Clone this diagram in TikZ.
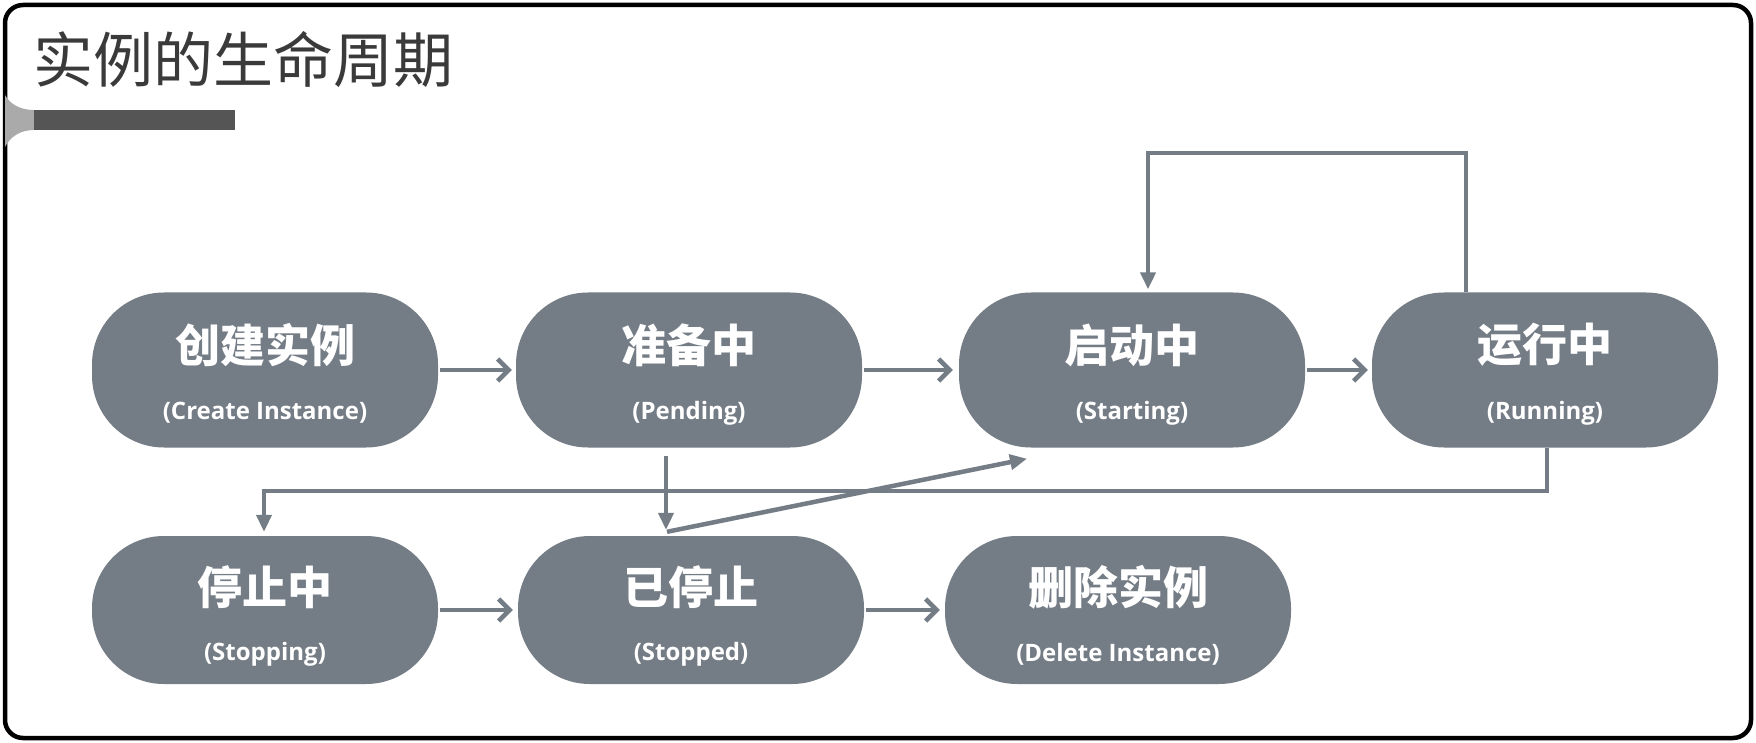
\documentclass[tikz,border=0pt]{standalone}
\usepackage{fontspec}
\newfontfamily\cjk{Noto Sans CJK SC}
\newfontfamily\lat{Open Sans}
\usetikzlibrary{arrows.meta,calc}
\definecolor{nodegray}{RGB}{116,124,133}
\definecolor{bargray}{RGB}{85,85,85}
\definecolor{tabgray}{RGB}{170,170,170}
\definecolor{titlegray}{RGB}{58,58,58}
\begin{document}
\begin{tikzpicture}[x=1pt,y=-1pt,
  state/.style={fill=nodegray, rounded corners=72pt, minimum width=346pt, inner sep=0pt},
  zhtext/.style={text=white, inner sep=0pt, font=\cjk\bfseries\fontsize{45}{45}\selectfont},
  entext/.style={text=white, inner sep=0pt, font=\lat\bfseries\fontsize{24}{24}\selectfont},
  flow/.style={draw=nodegray, line width=4.5pt},
  chev/.style={flow, -{Straight Barb[length=11pt,width=22pt]}},
  tri/.style={flow, -{Triangle[length=17pt,width=15pt]}}
]
\useasboundingbox (0,0) rectangle (1756,743);
\fill[white] (0,0) rectangle (1756,743);
\draw[black, line width=4.5pt, rounded corners=18pt] (5,5) rectangle (1751,738);
% title decoration
\fill[tabgray] (5,95) .. controls (10,104) and (20,110) .. (34,110) -- (34,130) .. controls (20,130) and (10,137) .. (5,147) -- cycle;
\fill[bargray] (34,110) rectangle (235,130);
\node[anchor=west, inner sep=0pt, text=titlegray, font=\cjk\fontsize{60}{60}\selectfont] (title) at (33,60) {实例的生命周期};
% states
\foreach \n/\x/\y/\h/\dz/\de/\zh/\en in {
  n1/265/370/155/-25/43/创建实例/(Create Instance),
  n2/689/370/155/-25/43/准备中/(Pending),
  n3/1132/370/155/-25/43/启动中/(Starting),
  n4/1545/370/155/-25/43/运行中/(Running),
  n5/265/610/148/-23/44/停止中/(Stopping),
  n6/691/610/148/-23/44/已停止/(Stopped),
  n7/1118/610/148/-23/44/删除实例/(Delete Instance)} {
  \node[state, minimum height=\h pt] (\n) at (\x,\y) {};
  \node[zhtext] (\n-zh) at ($(\n.center)+(0,\dz)$) {\zh};
  \node[entext] (\n-en) at ($(\n.center)+(0,\de)$) {\en};
}
% horizontal transitions
\draw[chev, shorten <=2pt, shorten >=4pt] (n1) -- (n2);
\draw[chev, shorten <=2pt, shorten >=6pt] (n2) -- (n3);
\draw[chev, shorten <=2pt, shorten >=4pt] (n3) -- (n4);
\draw[chev, shorten <=2pt, shorten >=5pt] (n5) -- (n6);
\draw[chev, shorten <=2pt, shorten >=5pt] (n6) -- (n7);
% running -> starting loop
\coordinate (topY) at (0,153);
\coordinate (a4) at ($(n4.north)+(-79,0)$);
\coordinate (a3) at ($(n3.north)+(16,-3)$);
\draw[tri] (a4) -- (a4 |- topY) -- (a3 |- topY) -- (a3);
% running -> stopping
\coordinate (midY) at (0,491);
\coordinate (b4) at ($(n4.south)+(2,0)$);
\coordinate (b5) at ($(n5.north)+(-1,-4)$);
\draw[tri] (b4) -- (b4 |- midY) -- (b5 |- midY) -- (b5);
% pending -> stopped
\coordinate (c2) at ($(n2.south)+(-23,8)$);
\coordinate (c6) at ($(n6.north)+(-25,-6)$);
\draw[tri] (c2) -- (c6);
% stopped -> starting
\coordinate (d6) at ($(n6.north)+(-24,-4)$);
\coordinate (d3) at ($(n3.south)+(-105,11)$);
\draw[tri] (d6) -- (d3);
\end{tikzpicture}
\end{document}
